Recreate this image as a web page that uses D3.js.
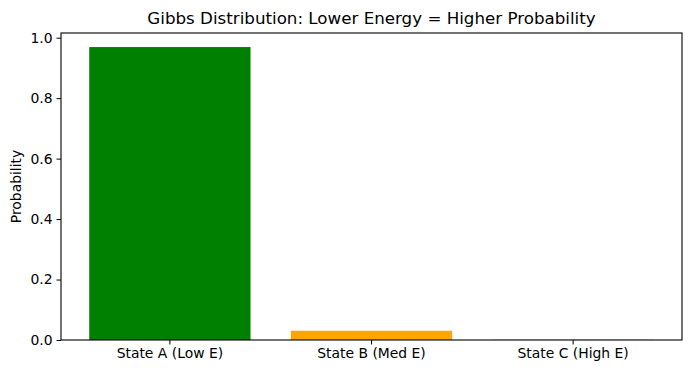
<!DOCTYPE html>
<html lang="en">
<head>
<meta charset="UTF-8" />
<title>Gibbs Distribution</title>
<script src="https://cdn.jsdelivr.net/npm/d3@7"></script>
<style>
  body { margin: 0; background: #fff; }
  svg { display: block; font-family: "DejaVu Sans", sans-serif; }
</style>
</head>
<body>
<script>
// data
const states = ['State A (Low E)', 'State B (Med E)', 'State C (High E)'];
const probs = [0.969, 0.0306, 0.0004];
const barColors = ['green', 'orange', 'red'];
const yTicks = [0.0, 0.2, 0.4, 0.6, 0.8, 1.0];

const width = 691, height = 374;
const margin = { left: 61, top: 33, right: 9, bottom: 34 };

const svg = d3.select('body').append('svg')
    .attr('width', width)
    .attr('height', height);

const x = d3.scaleBand()
    .domain(states)
    .range([margin.left, width - margin.right])
    .paddingInner(0.2)
    .paddingOuter(0.14);

// matplotlib style 5% headroom above the tallest bar
const y = d3.scaleLinear()
    .domain([0, d3.max(probs) * 1.048])
    .range([height - margin.bottom, margin.top]);

svg.append('g')
    .selectAll('rect')
    .data(states)
    .join('rect')
    .attr('x', d => x(d))
    .attr('width', x.bandwidth())
    .attr('y', (d, i) => y(probs[i]))
    .attr('height', (d, i) => y(0) - y(probs[i]))
    .attr('fill', (d, i) => barColors[i]);

const xAxis = svg.append('g')
    .attr('transform', `translate(0,${height - margin.bottom})`)
    .call(d3.axisBottom(x).tickSize(4.5).tickPadding(4).tickSizeOuter(0));

const yAxis = svg.append('g')
    .attr('transform', `translate(${margin.left},0)`)
    .call(d3.axisLeft(y).tickValues(yTicks).tickFormat(d3.format('.1f')).tickSize(4.5).tickPadding(4).tickSizeOuter(0));

[xAxis, yAxis].forEach(g => {
    g.select('.domain').remove();
    g.selectAll('text').attr('font-size', 13.9).attr('fill', '#000').attr('font-family', '"DejaVu Sans", sans-serif');
    g.selectAll('line').attr('stroke', '#000').attr('stroke-width', 1);
});

// frame
svg.append('rect')
    .attr('x', margin.left)
    .attr('y', margin.top)
    .attr('width', width - margin.left - margin.right)
    .attr('height', height - margin.top - margin.bottom)
    .attr('fill', 'none')
    .attr('stroke', '#000')
    .attr('stroke-width', 1.1);

svg.append('text')
    .attr('x', (margin.left + width - margin.right) / 2)
    .attr('y', 24)
    .attr('text-anchor', 'middle')
    .attr('font-size', 16.7)
    .text('Gibbs Distribution: Lower Energy = Higher Probability');

svg.append('text')
    .attr('transform', `translate(21,${(margin.top + height - margin.bottom) / 2}) rotate(-90)`)
    .attr('text-anchor', 'middle')
    .attr('font-size', 13.9)
    .text('Probability');
</script>
</body>
</html>
